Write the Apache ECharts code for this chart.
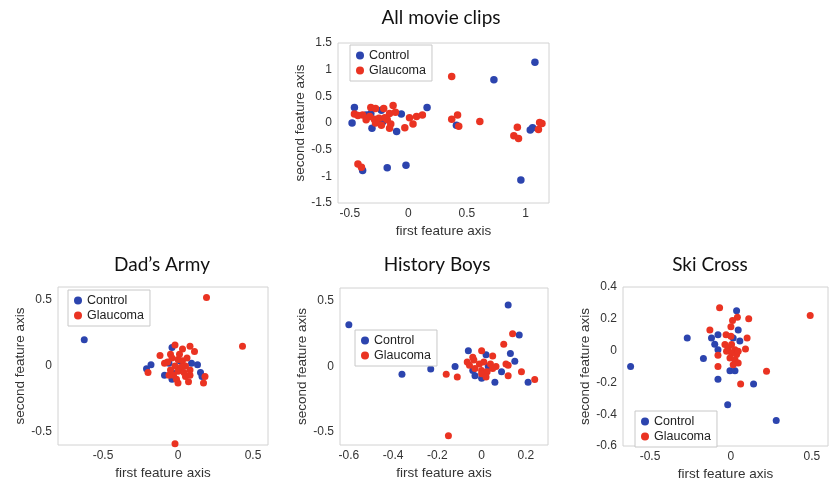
<!DOCTYPE html>
<html><head><meta charset="utf-8">
<script src="https://cdn.jsdelivr.net/npm/echarts@6/dist/echarts.min.js"></script>
<style>html,body{margin:0;padding:0;background:#fff}#c{width:831px;height:487px}</style>
</head><body><div id="c"></div>
<script>
// ---- data ----
const seriesNames = ['Control', 'Glaucoma'];
const titles = ['All movie clips', 'Dad\u2019s Army', 'History Boys', 'Ski Cross'];

const allControl = [[1.08,1.14],[0.73,0.81],[0.16,0.29],[-0.46,0.29],[-0.36,0.15],[-0.32,0.18],[-0.23,0.24],[-0.06,0.17],[-0.48,0],[-0.31,-0.1],[-0.22,0.02],[-0.1,-0.16],[0.41,-0.04],[1.04,-0.13],[1.06,-0.09],[-0.39,-0.89],[-0.18,-0.84],[-0.02,-0.79],[0.96,-1.07]];
const allGlaucoma = [[0.37,0.87],[-0.46,0.17],[-0.39,0.15],[-0.43,0.14],[-0.32,0.29],[-0.28,0.27],[-0.21,0.27],[-0.13,0.33],[-0.16,0.18],[-0.11,0.2],[-0.36,0.06],[-0.33,0.12],[-0.29,0.07],[-0.25,0.09],[-0.18,0.06],[-0.15,-0.02],[-0.16,-0.1],[-0.28,0.0],[-0.23,-0.04],[-0.2,0.1],[0.01,0.1],[0.07,0.12],[0.12,0.15],[0.04,-0.02],[-0.03,-0.09],[0.37,0.07],[0.42,0.15],[0.43,-0.06],[0.61,0.03],[0.93,-0.08],[0.9,-0.24],[0.94,-0.29],[1.12,0.01],[1.14,-0.01],[1.11,-0.12],[-0.43,-0.77],[-0.4,-0.83]];

const dadControl = [[-0.625,0.2],[-0.04,0.14],[-0.18,0.01],[-0.21,-0.02],[-0.09,-0.07],[-0.04,-0.05],[-0.04,-0.1],[0.09,0.02],[0.13,0.01],[0.15,-0.05],[0.16,-0.08],[0.01,0.04],[-0.06,0.02],[0.02,-0.03]];
const dadGlaucoma = [[0.19,0.52],[0.43,0.15],[-0.02,-0.59],[-0.2,-0.05],[-0.12,0.08],[-0.05,0.09],[-0.02,0.16],[0.03,0.13],[0.08,0.15],[0.11,0.11],[0.18,-0.08],[0.08,-0.07],[0,-0.13],[0.07,-0.12],[0.17,-0.13],[-0.06,-0.07],[-0.04,0.06],[0,0.05],[0.03,0.04],[-0.07,0.03],[-0.02,0],[0.02,-0.01],[0.05,0.0],[-0.05,-0.03],[0,-0.04],[0.04,-0.05],[-0.03,-0.07],[0.08,-0.03],[0.06,0.06],[-0.09,0.02],[0.01,0.09],[-0.01,-0.1],[0.05,-0.08]];

const histControl = [[-0.6,0.32],[-0.36,-0.06],[-0.23,-0.02],[-0.12,0],[0.12,0.47],[0.17,0.24],[0.13,0.1],[0.15,0.04],[0.09,-0.04],[0.21,-0.12],[-0.06,0.12],[0.02,0.09],[-0.04,-0.03],[-0.03,-0.07],[0,-0.09],[0.06,-0.12],[0.03,0]];
const histGlaucoma = [[-0.15,-0.53],[0.14,0.25],[0.1,0.17],[-0.16,-0.06],[-0.11,-0.08],[0.24,-0.1],[0.18,-0.04],[0.12,-0.07],[0.11,0.02],[0.12,0.01],[0,0.12],[0.05,0.08],[-0.065,0.035],[-0.035,0.05],[-0.01,0.02],[0.01,0.035],[0.04,0.02],[0.065,0],[-0.03,-0.015],[0,-0.03],[0.025,-0.04],[0,-0.055],[0.05,-0.015],[-0.055,0.01],[0.02,-0.08],[-0.04,0.07]];

const skiControl = [[-0.62,-0.1],[-0.27,0.08],[-0.17,-0.05],[-0.08,-0.18],[-0.02,-0.34],[0.28,-0.44],[0.14,-0.21],[0.035,0.25],[0.045,0.13],[-0.12,0.08],[-0.08,0.1],[0.014,0.08],[0.055,0.06],[-0.1,0.04],[-0.08,0.006],[-0.006,-0.127],[0.025,-0.127]];
const skiGlaucoma = [[0.49,0.22],[-0.07,0.27],[0.04,0.21],[0.01,0.19],[0.11,0.2],[0,0.15],[-0.13,0.13],[-0.03,0.1],[0,0.09],[0.1,0.08],[0.09,0.01],[-0.08,-0.03],[-0.08,-0.1],[0.06,-0.21],[0.22,-0.13],[-0.037,0.038],[-0.016,0.017],[0.004,0.038],[0.025,0.006],[-0.027,-0.004],[0.004,-0.015],[0.035,-0.025],[-0.006,-0.046],[0.025,-0.057],[0.045,-0.078],[0.014,-0.089],[0.045,-0.004]];

const allXTicks = [-0.5, 0, 0.5, 1];
const allYTicks = [-1.5, -1, -0.5, 0, 0.5, 1, 1.5];
const dadXTicks = [-0.5, 0, 0.5];
const dadYTicks = [-0.5, 0, 0.5];
const histXTicks = [-0.6, -0.4, -0.2, 0, 0.2];
const histYTicks = [-0.5, 0, 0.5];
const skiXTicks = [-0.5, 0, 0.5];
const skiYTicks = [-0.6, -0.4, -0.2, 0, 0.2, 0.4];

// ---- layout / style ----
const BLUE = '#2c44ae', RED = '#ea3322';
const panels = [
  {grid:{left:338,top:43,width:211,height:160}, x:[-0.6,1.2], y:[-1.5,1.5], xt:allXTicks, yt:allYTicks, c:allControl, g:allGlaucoma,
   title:[441,18], legend:{left:350,top:45}, size:7.5},
  {grid:{left:58,top:287,width:210,height:158}, x:[-0.8,0.6], y:[-0.6,0.6], xt:dadXTicks, yt:dadYTicks, c:dadControl, g:dadGlaucoma,
   title:[162,265], legend:{left:68,top:290}, size:7},
  {grid:{left:340,top:288,width:208,height:157}, x:[-0.64,0.3], y:[-0.6,0.6], xt:histXTicks, yt:histYTicks, c:histControl, g:histGlaucoma,
   title:[437,265], legend:{left:355,top:330}, size:7},
  {grid:{left:623,top:287,width:205,height:159}, x:[-0.667,0.6], y:[-0.6,0.4], xt:skiXTicks, yt:skiYTicks, c:skiControl, g:skiGlaucoma,
   title:[710,265], legend:{left:635,top:411}, size:7}
];

const fmt = v => { const r = Math.round(v*100)/100; return String(r); };
const labelFont = {fontFamily:'Liberation Sans, Arial, sans-serif', fontSize:12, color:'#333'};
const nameFont = {fontFamily:'Liberation Sans, Arial, sans-serif', fontSize:13.5, color:'#333'};

const option = {
  animation:false,
  backgroundColor:'#fff',
  grid: panels.map(p => Object.assign({show:true, borderColor:'#d2d2d2', borderWidth:1, backgroundColor:'#fff'}, p.grid)),
  xAxis: panels.map((p,i) => ({
    type:'value', gridIndex:i, min:p.x[0], max:p.x[1],
    name:'first feature axis', nameLocation:'middle', nameGap:21, nameTextStyle:nameFont,
    axisLine:{show:false}, axisTick:{show:false}, splitLine:{show:false},
    axisLabel:Object.assign({customValues:p.xt, formatter:fmt, margin:5, showMinLabel:true, showMaxLabel:true}, labelFont)
  })),
  yAxis: panels.map((p,i) => ({
    type:'value', gridIndex:i, min:p.y[0], max:p.y[1],
    name:'second feature axis', nameLocation:'middle', nameGap:29, nameTextStyle:nameFont,
    axisLine:{show:false}, axisTick:{show:false}, splitLine:{show:false},
    axisLabel:Object.assign({customValues:p.yt, formatter:fmt, margin:6, showMinLabel:true, showMaxLabel:true}, labelFont)
  })),
  legend: panels.map(p => ({
    left:p.legend.left, top:p.legend.top, orient:'vertical', data:seriesNames,
    icon:'circle', itemWidth:8, itemHeight:8, itemGap:2, padding:[4,6,4,6],
    borderColor:'#c8c8c8', borderWidth:1, backgroundColor:'#fff', selectedMode:false,
    textStyle:{fontFamily:'Liberation Sans, Arial, sans-serif', fontSize:12.5, color:'#222'}
  })),
  series: [],
  graphic: panels.map((p,i) => ({
    type:'text', left:p.title[0], top:p.title[1], z:10,
    style:{text:titles[i], x:0, y:0, textAlign:'center', textVerticalAlign:'middle',
      font:'19px Lato, "Open Sans", sans-serif', fill:'#111'}
  }))
};
panels.forEach((p,i) => {
  option.series.push({type:'scatter', name:'Control', xAxisIndex:i, yAxisIndex:i, data:p.c, symbolSize:p.size, itemStyle:{color:BLUE, opacity:1}, z:2});
  option.series.push({type:'scatter', name:'Glaucoma', xAxisIndex:i, yAxisIndex:i, data:p.g, symbolSize:p.size, itemStyle:{color:RED, opacity:1}, z:3});
});
// graphic text positioned by its center
option.graphic = panels.map((p,i) => ({
  type:'text', x:p.title[0], y:p.title[1], z:10,
  style:{text:titles[i], align:'center', verticalAlign:'middle',
    fontFamily:'Lato, "Open Sans", sans-serif', fontSize:19, fill:'#111'}
}));
const chart = echarts.init(document.getElementById('c'), null, {renderer:'canvas'});
chart.setOption(option);
</script></body></html>
